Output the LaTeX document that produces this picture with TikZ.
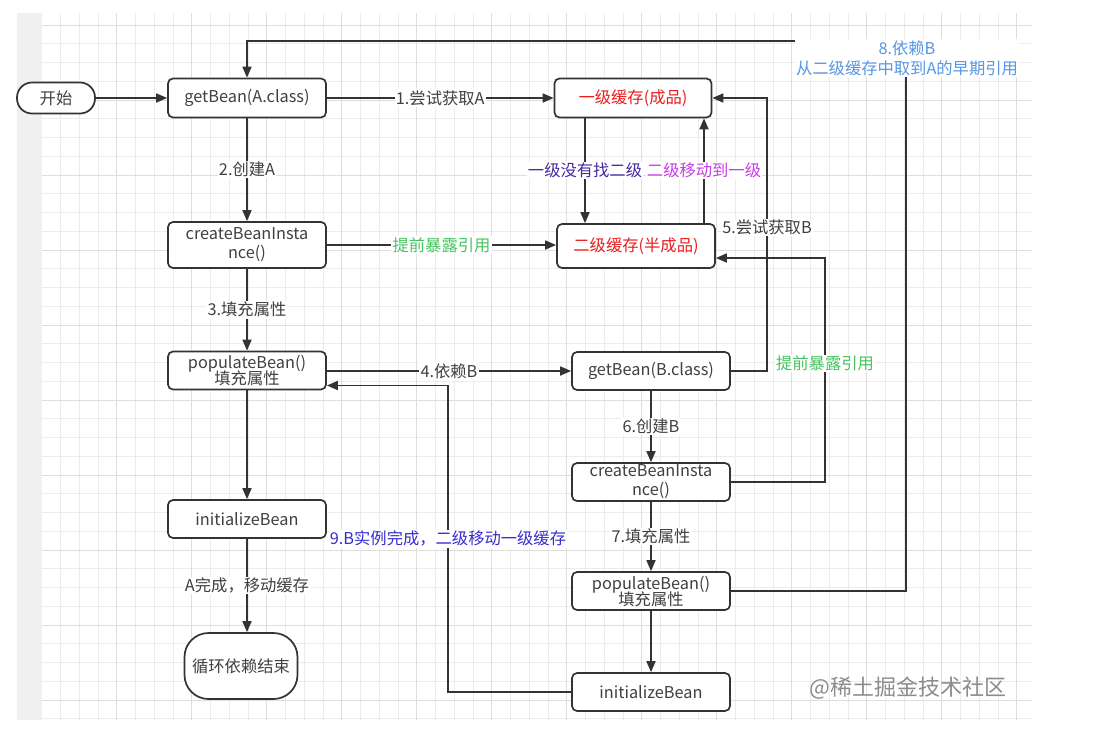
\documentclass[tikz,border=0pt]{standalone}
\usepackage{fontspec}
\setmainfont{Noto Sans CJK SC}
\usetikzlibrary{arrows.meta,calc}
\definecolor{ln}{RGB}{51,51,51}
\definecolor{txt}{RGB}{64,64,64}
\definecolor{redt}{RGB}{232,30,30}
\definecolor{greent}{RGB}{70,195,95}
\definecolor{purplet}{RGB}{72,40,160}
\definecolor{magentat}{RGB}{200,60,235}
\definecolor{bluet}{RGB}{55,45,205}
\definecolor{lbluet}{RGB}{85,150,230}
\definecolor{gridminor}{RGB}{236,236,236}
\definecolor{gridmajor}{RGB}{222,222,222}
\definecolor{strip}{RGB}{240,240,240}
\begin{document}
\begin{tikzpicture}[x=1pt,y=-1pt,
  box/.style={draw=ln, line width=1.7pt, rounded corners=5pt, fill=white,
    minimum width=158pt, minimum height=39pt, align=center, text=txt,
    font=\fontsize{16.3}{19}\selectfont, inner sep=0pt},
  stadium/.style={box, rounded corners=15pt},
  lbl/.style={fill=white, inner sep=1.2pt, text=txt, font=\fontsize{16.3}{19}\selectfont, align=center},
  arr/.style={draw=ln, line width=1.7pt, -{Triangle[length=11pt,width=9pt]}},
  ln/.style={draw=ln, line width=1.7pt}]
\useasboundingbox (0,0) rectangle (1096,734);
\fill[white] (0,0) rectangle (1096,734);
\fill[strip] (17,13) rectangle (42,720);
\begin{scope}
\clip (42,13) rectangle (1032,720);
\foreach \i in {0,...,53} \draw[gridminor, line width=0.8pt] ({41.7+18.75*\i},13) -- ({41.7+18.75*\i},720);
\foreach \j in {-1,...,38} \draw[gridminor, line width=0.8pt] (42,{25+18.75*\j}) -- (1032,{25+18.75*\j});
\foreach \i in {0,...,13} \draw[gridmajor, line width=0.8pt] ({41.7+75*\i},13) -- ({41.7+75*\i},720);
\foreach \j in {0,...,9} \draw[gridmajor, line width=0.8pt] (42,{25+75*\j}) -- (1032,{25+75*\j});
\end{scope}

% nodes
\node[stadium, minimum width=78pt, minimum height=31pt] (start) at (56,98) {开始};
\node[box] (gbA) at (247,98) {getBean(A.class)};
\node[box, minimum width=157pt, text=redt] (l1) at (633,98) {一级缓存(成品)};
\node[box, minimum height=44pt, text=redt] (l2) at (636,246) {二级缓存(半成品)};
\node[box, minimum height=46pt] (cA) at (247,245) {createBeanInsta\\nce()};
\node[box, minimum height=38pt] (pA) at (247,370.5) {populateBean()\\[-3pt]填充属性};
\node[box, minimum height=38pt] (iA) at (247,519) {initializeBean};
\node[box, minimum width=113pt, minimum height=66pt, rounded corners=24pt] (end) at (241,666) {循环依赖结束};
\node[box, minimum height=38pt] (gbB) at (651,371) {getBean(B.class)};
\node[box, minimum height=38pt] (cB) at (651,482) {createBeanInsta\\nce()};
\node[box, minimum height=38pt] (pB) at (651,591) {populateBean()\\[-3pt]填充属性};
\node[box, minimum height=38pt] (iB) at (651,692) {initializeBean};

% helper coordinates
\coordinate (xd) at (585,0);
\coordinate (xu) at (704,0);
\coordinate (x5) at (767,0);
\coordinate (xe) at (825,0);
\coordinate (ctop) at (906,41);
\coordinate (x9) at (448,0);
\coordinate (pAin) at ($(pA.east)+(0,15)$);
\coordinate (l2in) at ($(l2.east)+(0,12)$);

% connectors
\draw[arr] (start) -- (gbA.west |- start);
\draw[arr] (gbA) -- node[lbl] {1.尝试获取A} (l1);
\draw[arr] (gbA) -- node[lbl] {2.创建A} (cA);
\draw[arr] (cA) -- node[lbl, text=greent] {提前暴露引用} (l2.west |- cA);
\draw[arr] (cA) -- node[lbl] {3.填充属性} (pA);
\draw[arr] (pA.east |- gbB) -- node[lbl] {4.依赖B} (gbB);
\draw[arr] (pA) -- (iA);
\draw[arr] (iA) -- node[lbl] {A完成，移动缓存} (iA |- end.north);
\draw[arr] (l1.south -| xd) -- node[lbl, text=purplet] {一级没有找二级} (l2.north -| xd);
\draw[arr] (l2.north -| xu) -- node[lbl, text=magentat] {二级移动到一级} (l1.south -| xu);
\draw[arr] (gbB) -- (gbB -| x5) -- node[lbl, pos=0.526] {5.尝试获取B} (x5 |- l1) -- (l1.east);
\draw[arr] (cB) -- (cB -| xe) -- node[lbl, pos=0.53, text=greent] {提前暴露引用} (xe |- l2in) -- (l2in);
\draw[arr] (gbB) -- node[lbl] {6.创建B} (cB);
\draw[arr] (cB) -- node[lbl] {7.填充属性} (pB);
\draw[arr] (pB) -- (iB);
\draw[arr] (iB) -- (iB -| x9) -- node[lbl, pos=0.5, text=bluet] {9.B实例完成，二级移动一级缓存} (x9 |- pAin) -- (pAin);
\draw[arr] (pB) -- (pB -| ctop) -- (ctop) -- (ctop -| gbA) -- (gbA);
\node[lbl, text=lbluet, font=\fontsize{16.3}{20}\selectfont] (lab8) at (907,58) {8.依赖B\\从二级缓存中取到A的早期引用};

% watermark
\node[text=black!45, font=\fontsize{22}{24}\selectfont, inner sep=0pt] (wm) at (908,688) {@稀土掘金技术社区};
\end{tikzpicture}
\end{document}
